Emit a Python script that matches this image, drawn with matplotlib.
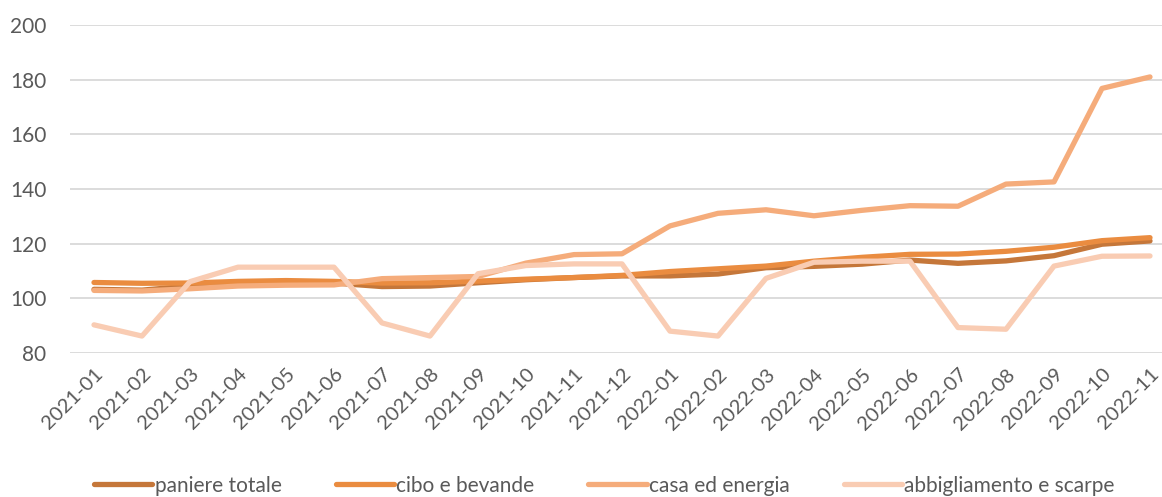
import matplotlib.pyplot as plt

months = ['2021-01', '2021-02', '2021-03', '2021-04', '2021-05', '2021-06',
          '2021-07', '2021-08', '2021-09', '2021-10', '2021-11', '2021-12',
          '2022-01', '2022-02', '2022-03', '2022-04', '2022-05', '2022-06',
          '2022-07', '2022-08', '2022-09', '2022-10', '2022-11']

paniere_totale = [103.3, 103.0, 104.5, 105.5, 106.0, 105.6, 104.3, 104.5, 105.7,
                  106.8, 107.6, 108.2, 108.2, 108.9, 111.2, 111.7, 112.5, 114.0,
                  112.8, 113.7, 115.6, 119.8, 121.0]
cibo_bevande = [105.8, 105.5, 105.6, 106.2, 106.5, 106.2, 105.6, 105.7, 106.3,
                107.0, 107.6, 108.4, 109.8, 110.8, 111.8, 113.6, 115.0, 116.1,
                116.2, 117.2, 118.7, 121.1, 122.2]
casa_energia = [102.9, 102.7, 103.5, 104.5, 104.8, 104.9, 107.2, 107.6, 108.0,
                112.9, 116.0, 116.3, 126.5, 131.1, 132.4, 130.2, 132.2, 133.9,
                133.7, 141.8, 142.6, 176.8, 181.0]
abbigliamento_scarpe = [90.3, 86.2, 106.1, 111.4, 111.4, 111.4, 91.0, 86.2, 109.0,
                        112.0, 112.6, 112.6, 88.0, 86.2, 107.3, 113.2, 113.6, 113.6,
                        89.3, 88.7, 111.8, 115.4, 115.5]

series = [
    ('paniere totale', paniere_totale, '#C5773A'),
    ('cibo e bevande', cibo_bevande, '#EA8C40'),
    ('casa ed energia', casa_energia, '#F5AC7B'),
    ('abbigliamento e scarpe', abbigliamento_scarpe, '#F9CCB3'),
]

plt.rcParams['font.family'] = ['Lato', 'DejaVu Sans']

fig = plt.figure(figsize=(11.62, 4.97), dpi=100)
ax = fig.add_axes([70 / 1162, 1 - 353 / 497, (1174 - 70) / 1162, 328 / 497])

x = range(len(months))
# same order as the original: later series are drawn on top
for name, vals, color in series:
    ax.plot(x, vals, color=color, linewidth=3.8, solid_capstyle='round', label=name)

ax.set_xlim(-0.5, len(months) - 0.5)
ax.set_ylim(80, 200)
ax.set_yticks(range(80, 201, 20))
ax.set_xticks(list(x))
ax.set_xticklabels(months, rotation=45, ha='right', rotation_mode='anchor')
ax.grid(axis='y', color='#D9D9D9', linewidth=1.3)
ax.set_axisbelow(True)
for s in ax.spines.values():
    s.set_visible(False)
ax.tick_params(axis='both', length=0, labelsize=15, labelcolor='#595959')
ax.tick_params(axis='y', pad=17)
ax.tick_params(axis='x', labelsize=14.5, pad=9)

fig.legend(loc='lower center', ncol=4, frameon=False,
           bbox_to_anchor=(0.52, -0.035), fontsize=15, labelcolor='#595959',
           handlelength=2.8, handletextpad=0.1, columnspacing=2.6)

fig.savefig('out.png', dpi=100)
